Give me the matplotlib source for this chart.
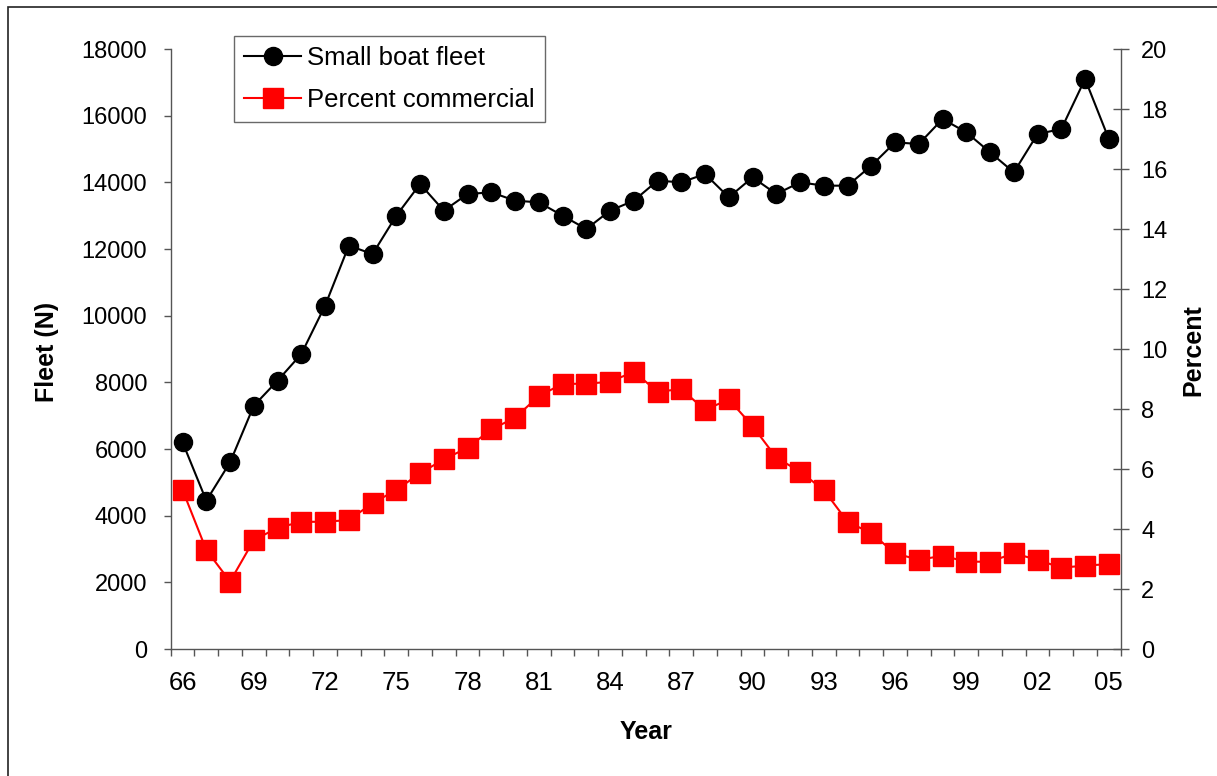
import matplotlib
matplotlib.use("Agg")
import matplotlib.pyplot as plt
import numpy as np
from matplotlib.patches import Rectangle

plt.rcParams['font.family'] = ['Liberation Sans', 'DejaVu Sans']

years = list(range(1966, 2006))
year_labels = [f"{y % 100:02d}" for y in years]

fleet = [6200, 4450, 5600, 7300, 8050, 8850, 10300, 12100, 11850, 13000,
         13950, 13150, 13650, 13700, 13450, 13400, 13000, 12600, 13150, 13450,
         14050, 14000, 14250, 13550, 14150, 13650, 14000, 13900, 13900, 14500,
         15200, 15150, 15900, 15500, 14900, 14300, 15450, 15600, 17100, 15300]

percent = [5.3, 3.3, 2.25, 3.63, 4.04, 4.24, 4.24, 4.3, 4.86, 5.3,
           5.86, 6.32, 6.71, 7.32, 7.71, 8.43, 8.84, 8.84, 8.91, 9.24,
           8.58, 8.66, 7.97, 8.32, 7.43, 6.38, 5.91, 5.3, 4.24, 3.86,
           3.19, 2.97, 3.11, 2.91, 2.91, 3.19, 2.97, 2.71, 2.78, 2.83]

W, H = 1217, 776
fig = plt.figure(figsize=(W / 100, H / 100), dpi=100)
fig.patch.set_facecolor('white')

# outer chart frame
fig.add_artist(Rectangle((8 / W, -0.05), 1.1, 1 - 7 / H + 0.05,
                         transform=fig.transFigure, fill=False,
                         edgecolor='#222222', linewidth=1.2))

left, right, top, bottom = 170.7, 1120.7, 49, 649
ax = fig.add_axes([left / W, 1 - bottom / H, (right - left) / W, (bottom - top) / H])
ax2 = ax.twinx()

axis_col = '#555555'
x = np.arange(len(years))

ax.plot(x, fleet, color='black', lw=1.5, marker='o', markersize=13,
        markerfacecolor='black', markeredgecolor='black', zorder=3,
        label='Small boat fleet')
ax2.plot(x, percent, color='#ff0000', lw=1.5, marker='s', markersize=14,
         markerfacecolor='#ff0000', markeredgecolor='#ff0000', zorder=3,
         label='Percent commercial')

ax.set_xlim(-0.5, len(years) - 0.5)
ax.set_ylim(0, 18000)
ax2.set_ylim(0, 20)
ax.set_yticks(np.arange(0, 18001, 2000))
ax2.set_yticks(np.arange(0, 21, 2))

ax.set_xticks(x[::3])
ax.set_xticklabels(year_labels[::3])
ax.set_xticks(np.arange(-0.5, len(years), 1), minor=True)

for a in (ax, ax2):
    a.spines['top'].set_visible(False)
    for s in ('left', 'right', 'bottom'):
        a.spines[s].set_color(axis_col)
        a.spines[s].set_linewidth(1.0)
    a.set_facecolor('none')

ax2.spines['left'].set_visible(False)
ax2.spines['bottom'].set_visible(False)
ax.spines['right'].set_visible(False)

ax.tick_params(axis='y', direction='out', length=5, width=1.0, color=axis_col,
               labelsize=17, pad=12, labelcolor='black')
ax.tick_params(axis='x', which='major', length=0, labelsize=18.5, pad=16,
               labelcolor='black')
ax.tick_params(axis='x', which='minor', direction='out', length=5, width=1.0,
               color=axis_col)
ax2.tick_params(axis='y', direction='inout', length=11.5, width=1.0,
                color=axis_col, labelsize=17, pad=9, labelcolor='black')

fig.text(47 / W, 1 - 352 / H, 'Fleet (N)', rotation=90, ha='center', va='center',
         fontsize=18, fontweight='bold')
fig.text(1193 / W, 1 - 350 / H, 'Percent', rotation=90, ha='center', va='center',
         fontsize=18, fontweight='bold')
fig.text(646 / W, 1 - 732 / H, 'Year', ha='center', va='center',
         fontsize=18, fontweight='bold')

h1, l1 = ax.get_legend_handles_labels()
h2, l2 = ax2.get_legend_handles_labels()
leg = ax2.legend(h1 + h2, l1 + l2, loc='upper left',
                 bbox_to_anchor=(234 / W, 1 - 36 / H),
                 bbox_transform=fig.transFigure,
                 fontsize=18.5, frameon=True, fancybox=False,
                 edgecolor='#444444', handlelength=2.2, handletextpad=0.25,
                 borderpad=0.4, borderaxespad=0, labelspacing=0.68)
leg.get_frame().set_linewidth(1.0)

fig.savefig('out.png', dpi=100, facecolor='white')
